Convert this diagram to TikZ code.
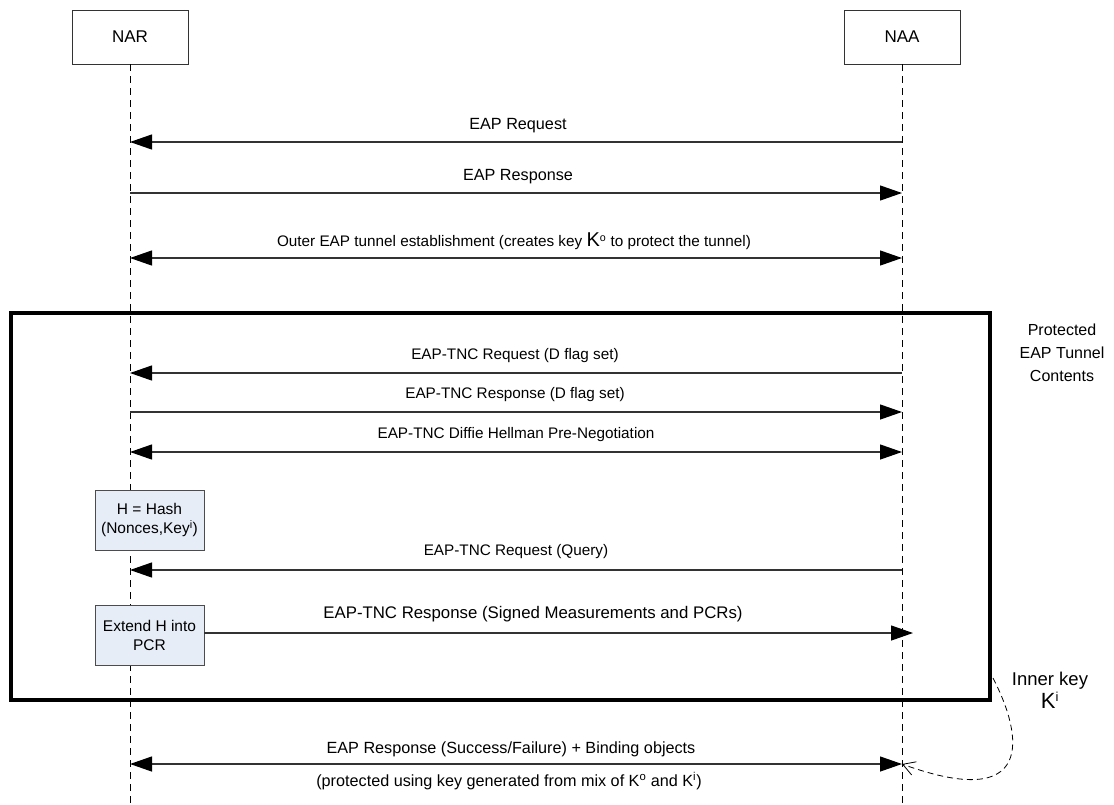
\documentclass[tikz,border=0pt]{standalone}
\usepackage{fontspec}
\setmainfont{Liberation Sans}
\usetikzlibrary{arrows.meta}
\definecolor{notefill}{RGB}{230,237,247}
\begin{document}
\begin{tikzpicture}[x=1pt,y=-1pt,
  head/.tip={Triangle[length=22pt,width=15pt,color=black,fill=black]},
  actor/.style={draw=black!80,line width=0.8pt,minimum width=116pt,minimum height=54pt,font=\fontsize{17}{19}\selectfont},
  life/.style={draw=black,line width=0.9pt,dash pattern=on 7pt off 5pt},
  msg/.style={draw=black!80,line width=1.2pt,-head},
  bimsg/.style={draw=black!80,line width=1.2pt,head-head},
  lbl/.style={font=\fontsize{15.3}{17}\selectfont,inner sep=0pt},
  biglbl/.style={font=\fontsize{16.2}{18}\selectfont,inner sep=0pt},
  note/.style={draw=black!70,line width=0.8pt,fill=notefill,minimum width=109pt,minimum height=60pt,align=center,font=\fontsize{15.5}{19}\selectfont},
  side/.style={align=center,font=\fontsize{16}{23}\selectfont}]
\useasboundingbox (0,0) rectangle (1114,804);

% participants
\node[actor] (NAR) at (130,37) {NAR};
\node[actor] (NAA) at (902,37) {NAA};
\coordinate (NARend) at (130,804);
\coordinate (NAAend) at (902,804);
\draw[life] (NAR.south) -- (NARend);
\draw[life] (NAA.south) -- (NAAend);

% message end points on the lifelines
\foreach \n/\y in {a/142,b/193,c/258,d/373,e/412,f/452,g/570,h/764}{
  \coordinate (r\n) at (130,\y);
  \coordinate (n\n) at (902,\y);
}
\coordinate (ni) at (913,633);

% protected tunnel frame
\node[draw=black,line width=4pt,minimum width=979pt,minimum height=387pt,inner sep=0pt] (tunnel) at (500.5,506.5) {};
\node[side] (tlabel) at (1062,353) {Protected\\EAP Tunnel\\Contents};

% pre-tunnel messages
\draw[msg] (na) -- (ra);
\node[biglbl] (la) at (518,126) {EAP Request};
\draw[msg] (rb) -- (nb);
\node[biglbl] (lb) at (518,177) {EAP Response};
\draw[bimsg] (rc) -- (nc);
\node[lbl] (lc) at (514,241) {Outer EAP tunnel establishment (creates key {\fontsize{20}{20}\selectfont K}\textsuperscript{o} to protect the tunnel)};

% tunnelled messages
\draw[msg] (nd) -- (rd);
\node[lbl] (ld) at (515,356) {EAP-TNC Request (D flag set)};
\draw[msg] (re) -- (ne);
\node[lbl] (le) at (515,395) {EAP-TNC Response (D flag set)};
\draw[bimsg] (rf) -- (nf);
\node[lbl] (lf) at (516,435) {EAP-TNC Diffie Hellman Pre-Negotiation};

\node[note] (hash) at (149.5,520) {H = Hash\\(Nonces,Key\textsuperscript{i})};
\draw[msg] (ng) -- (rg);
\node[lbl] (lg) at (516,552) {EAP-TNC Request (Query)};

\node[note] (ext) at (149.5,635) {Extend H into\\PCR};
\draw[msg] (ext.east |- ni) -- (ni);
\node[lbl,font=\fontsize{16.8}{18}\selectfont] (li) at (533,614) {EAP-TNC Response (Signed Measurements and PCRs)};

% final binding exchange
\draw[bimsg] (rh) -- (nh);
\node[biglbl] (lh1) at (511,749) {EAP Response (Success/Failure) + Binding objects};
\node[biglbl] (lh2) at (509,781) {(protected using key generated from mix of K\textsuperscript{o} and K\textsuperscript{i})};

% inner key
\node[align=center,font=\fontsize{18.5}{23}\selectfont] (ikey) at (1050,690) {Inner key\\{\fontsize{22}{22}\selectfont K}\textsuperscript{i}};
\coordinate (kstart) at (993,678);
\draw[black,line width=0.8pt,dash pattern=on 6pt off 4pt,-{Straight Barb[length=12pt,width=14pt]}]
  (kstart) .. controls (1024,738) and (1034,812) .. (nh);
\end{tikzpicture}
\end{document}
